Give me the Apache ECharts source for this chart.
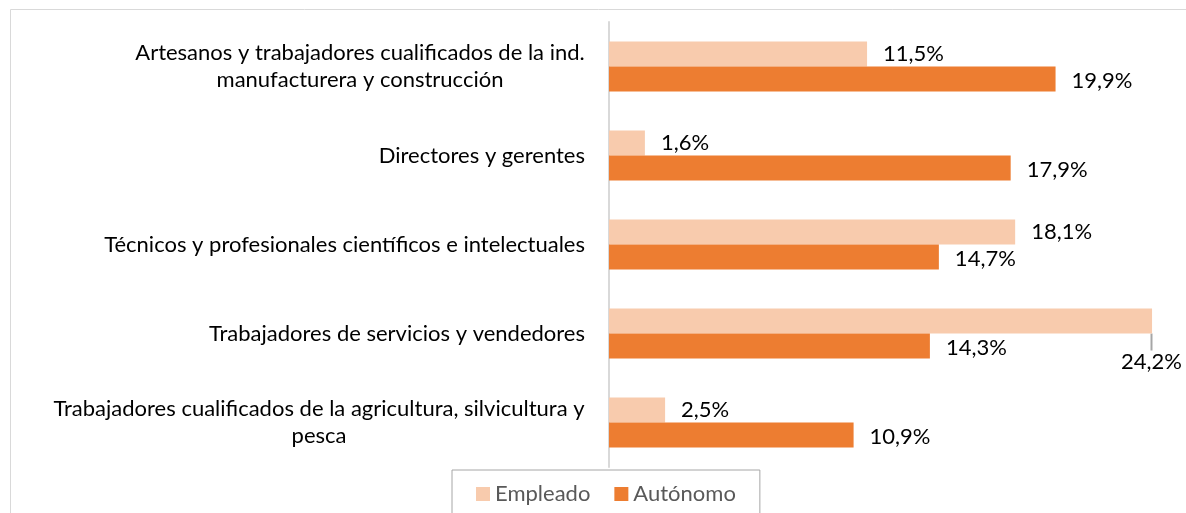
<!DOCTYPE html>
<html>
<head>
<meta charset="utf-8">
<script src="https://cdn.jsdelivr.net/npm/echarts@6/dist/echarts.min.js"></script>
<style>
  html, body { margin: 0; padding: 0; background: #fff; }
  #chart { width: 1186px; height: 513px; }
</style>
</head>
<body>
<div id="chart"></div>
<script>
// categorias de arriba a abajo
var categories = [
  'Artesanos y trabajadores cualificados de la ind.\nmanufacturera y construcción',
  'Directores y gerentes',
  'Técnicos y profesionales científicos e intelectuales',
  'Trabajadores de servicios y vendedores',
  'Trabajadores cualificados de la agricultura, silvicultura y\npesca'
];
var seriesNames = ['Empleado', 'Autónomo'];
var empleado = [11.5, 1.6, 18.1, 24.2, 2.5];
var autonomo = [19.9, 17.9, 14.7, 14.3, 10.9];

var FONT = 'Lato';
var labelSize = 22;

// ancho de la primera linea, para centrar la segunda debajo
var ctx = document.createElement('canvas').getContext('2d');
ctx.font = labelSize + 'px ' + FONT;
var rich = {};
categories.forEach(function (c, i) {
  if (c.indexOf('\n') >= 0) {
    rich['m' + i] = {
      width: Math.ceil(ctx.measureText(c.split('\n')[0]).width),
      align: 'center',
      fontFamily: FONT,
      fontSize: labelSize,
      color: '#000',
      lineHeight: 27
    };
  }
});

function pct(p) {
  return p.value.toFixed(1).replace('.', ',') + '%';
}

// solo la etiqueta de 24,2% va desplazada con linea guia
var empleadoData = empleado.map(function (v, i) {
  return i === 3 ? { value: v, labelLine: { show: true } } : v;
});

var chart = echarts.init(document.getElementById('chart'));
chart.setOption({
  animation: false,
  textStyle: { fontFamily: FONT },
  graphic: [{
    type: 'rect',
    shape: { x: 10.5, y: 9.5, width: 1400, height: 700 },
    style: { fill: 'none', stroke: '#d9d9d9', lineWidth: 1 },
    silent: true
  }],
  grid: { left: 609, right: 16, top: 22, bottom: 46 },
  legend: {
    data: seriesNames,
    left: 452,
    top: 470,
    padding: [13, 24, 30, 24],
    itemGap: 24,
    itemWidth: 14,
    itemHeight: 14,
    icon: 'rect',
    borderColor: '#a6a6a6',
    borderWidth: 1,
    textStyle: { fontSize: 22, color: '#595959', fontFamily: FONT }
  },
  xAxis: {
    type: 'value',
    min: 0,
    max: 25,
    show: false
  },
  yAxis: {
    type: 'category',
    inverse: true,
    data: categories,
    axisLine: { show: true, lineStyle: { color: '#d9d9d9', width: 2 } },
    axisTick: { show: false },
    axisLabel: {
      margin: 24,
      fontSize: labelSize,
      color: '#000',
      lineHeight: 27,
      rich: rich,
      formatter: function (v, i) {
        return v.indexOf('\n') >= 0 ? '{m' + i + '|' + v + '}' : v;
      }
    }
  },
  series: [
    {
      name: seriesNames[0],
      type: 'bar',
      data: empleadoData,
      barWidth: 25,
      barGap: '0%',
      itemStyle: { color: '#f8cbad' },
      label: {
        show: true,
        position: 'right',
        distance: 16,
        offset: [0, 2],
        fontSize: 22,
        color: '#000',
        formatter: pct
      },
      labelLine: { show: false, lineStyle: { color: '#a6a6a6', width: 2 } },
      labelLayout: function (p) {
        if (p.dataIndex === 3) {
          return { x: p.rect.x + p.rect.width - 31, y: p.rect.y + 42 };
        }
        return {};
      }
    },
    {
      name: seriesNames[1],
      type: 'bar',
      data: autonomo,
      barWidth: 25,
      barGap: '0%',
      itemStyle: { color: '#ed7d31' },
      label: {
        show: true,
        position: 'right',
        distance: 16,
        offset: [0, 2],
        fontSize: 22,
        color: '#000',
        formatter: pct
      }
    }
  ]
});
</script>
</body>
</html>
